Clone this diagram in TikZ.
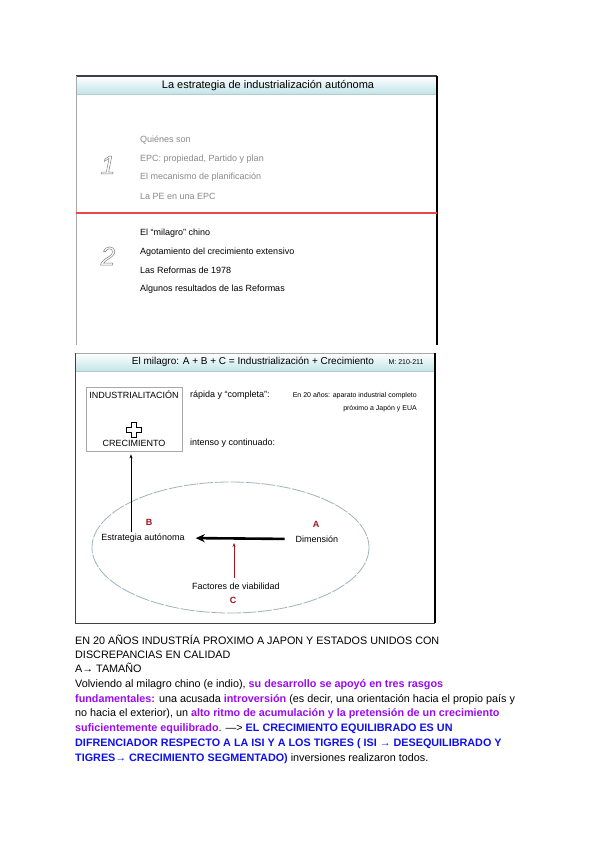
\documentclass[tikz,border=0pt]{standalone}
\usepackage{fontspec}
\setmainfont{Liberation Sans}
\usepackage{tikz}
\usetikzlibrary{arrows.meta,positioning,calc}
\definecolor{slidegray}{HTML}{A8A8A8}
\definecolor{slidedark}{HTML}{404040}
\definecolor{slideteal}{HTML}{C2E4E8}
\definecolor{itemgray}{HTML}{8A8A8A}
\definecolor{sepred}{HTML}{E84848}
\definecolor{milred}{HTML}{A3121E}
\definecolor{ovalline}{HTML}{9FB3BE}
\definecolor{txtpurple}{HTML}{9B0BF2}
\definecolor{txtblue}{HTML}{1010EE}
\newcommand{\hollowtxt}[1]{\special{pdf:literal direct 1 Tr 0.5 w}#1\special{pdf:literal direct 0 Tr}}
\tikzset{
  slidetitle/.style={font=\fontsize{11}{12}\selectfont,inner sep=0pt},
  slideitem/.style={font=\fontsize{9}{11}\selectfont,anchor=west,inner sep=0pt},
  slidenum/.style={font=\fontsize{26}{28}\selectfont\itshape,text=gray,inner sep=0pt},
  boxtxt/.style={font=\fontsize{9}{10}\selectfont,inner sep=0pt},
  smalltxt/.style={font=\fontsize{7}{8}\selectfont,inner sep=0pt},
  letter/.style={font=\fontsize{9}{10}\selectfont\bfseries,text=milred,inner sep=0pt},
  bodyline/.style={font=\fontsize{10.8}{12}\selectfont,anchor=base west,inner sep=0pt},
  thinarr/.style={-{Stealth[length=4pt,width=3pt]},line width=0.8pt},
  thickarr/.style={-{Stealth[length=9pt,width=8pt]},line width=2.6pt},
  redarr/.style={-{Stealth[length=4pt,width=3pt]},line width=1pt,draw=milred}
}
\newcommand{\pur}[1]{\textcolor{txtpurple}{\bfseries #1}}
\newcommand{\blu}[1]{\textcolor{txtblue}{\bfseries #1}}
\begin{document}
\begin{tikzpicture}[x=1pt,y=-1pt]
\useasboundingbox[fill=white] (0,0) rectangle (600,848);

% first slide
\shade[top color=white,bottom color=slideteal] (76,76) rectangle (437,94);
\draw[slideteal!75!gray] (76,94.5) -- (437,94.5);
\draw[slidedark,line width=1.5pt] (76,76) -- (437,76);
\draw[slidegray,line width=1.2pt] (76.6,76) -- (76.6,345);
\draw[black,line width=1.2pt] (437,76) -- (437,345);
\draw[sepred,line width=1.1pt] (76,213) -- (437,213);
\node[slidetitle] (ttl1) at (268,86) {La estrategia de industrialización autónoma};
\node[slidenum] (num1) at (108,165) {\hollowtxt{1}};
\node[slidenum] (num2) at (108,256) {\hollowtxt{2}};
\foreach \txt [count=\i] in {Quiénes son,{EPC: propiedad, Partido y plan},El mecanismo de planificación,La PE en una EPC}
  \node[slideitem,text=itemgray] (pa\i) at (140,{140+18.7*(\i-1)}) {\txt};
\foreach \txt [count=\i] in {El “milagro” chino,Agotamiento del crecimiento extensivo,Las Reformas de 1978,Algunos resultados de las Reformas}
  \node[slideitem] (pb\i) at (140,{233+18.7*(\i-1)}) {\txt};

% second slide
\shade[top color=white,bottom color=slideteal] (75,353) rectangle (435,371);
\draw[slideteal!75!gray] (75,371.5) -- (435,371.5);
\draw[slidegray,line width=1pt] (75,353) -- (435,353);
\draw[slidedark,line width=1.2pt] (75.6,353) -- (75.6,623.4);
\draw[black,line width=1.2pt] (435,353) -- (435,623.4);
\draw[slidedark,line width=1.2pt] (75,623.4) -- (435,623.4);
\node[slidetitle,font=\fontsize{10}{12}\selectfont] (ttl2) at (253,362) {El milagro: A + B + C = Industrialización + Crecimiento};
\node[smalltxt] (pages) at (406,362) {M: 210-211};

\node[draw=slidegray,line width=0.8pt,minimum width=96pt,minimum height=64pt,inner sep=0pt] (box) at (134,419) {};
\node[boxtxt] (ind) at (134,395) {INDUSTRIALITACIÓN};
\node[boxtxt] (cre) at (134,443) {CRECIMIENTO};
\coordinate (plus) at (134,430);
\draw[line width=0.7pt] ($(plus)+(-2.5,-7.5)$) -- ++(5,0) -- ++(0,5) -- ++(5,0) -- ++(0,5) -- ++(-5,0) -- ++(0,5) -- ++(-5,0) -- ++(0,-5) -- ++(-5,0) -- ++(0,-5) -- ++(5,0) -- cycle;
\node[boxtxt,anchor=west] (rap) at (190,395) {rápida y “completa”:};
\node[boxtxt,anchor=west] (int) at (190,443) {intenso y continuado:};
\node[smalltxt,anchor=east] (veinte) at (417,396) {En 20 años: aparato industrial completo};
\node[smalltxt,anchor=east] (prox) at (417,409) {próximo a Japón y EUA};

\draw[ovalline,line width=0.8pt,dash pattern=on 14pt off 1.5pt] (230.5,547.5) ellipse [x radius=138.5,y radius=65.5];
\node[letter] (lb) at (149,522) {B};
\node[boxtxt] (estr) at (143,538) {Estrategia autónoma};
\node[letter] (la) at (316,524) {A};
\node[boxtxt] (dim) at (317,539) {Dimensión};
\node[boxtxt] (fac) at (236,586) {Factores de viabilidad};
\node[letter] (lc) at (233,600) {C};

\draw[thinarr] ($(estr.north -| box.south)+(-3,-2)$) -- ($(box.south)+(-3,3)$);
\draw[thickarr,shorten <=11pt,shorten >=11pt] (dim.west) -- (estr.east);
\draw[redarr,shorten >=4pt] ($(fac.north)+(-2,-5)$) -- ($(fac.north |- dim.west)+(-2,0)$);

% text below
\node[bodyline] (l1) at (75,644) {EN 20 AÑOS INDUSTRÍA PROXIMO A JAPON Y ESTADOS UNIDOS CON};
\node[bodyline] (l2) at (75,658) {DISCREPANCIAS EN CALIDAD};
\node[bodyline] (l3) at (75,672) {A→ TAMAÑO};
\node[bodyline] (l4) at (75,687) {Volviendo al milagro chino (e indio), \pur{su desarrollo se apoyó en tres rasgos}};
\node[bodyline] (l5) at (75,702) {\pur{fundamentales:} una acusada \pur{introversión} (es decir, una orientación hacia el propio país y};
\node[bodyline] (l6) at (75,716) {no hacia el exterior), un \pur{alto ritmo de acumulación y la pretensión de un crecimiento}};
\node[bodyline] (l7) at (75,731) {\pur{suficientemente equilibrado}. —> \blu{EL CRECIMIENTO EQUILIBRADO ES UN}};
\node[bodyline] (l8) at (75,746) {\blu{DIFRENCIADOR RESPECTO A LA ISI Y A LOS TIGRES ( ISI → DESEQUILIBRADO Y}};
\node[bodyline] (l9) at (75,761) {\blu{TIGRES→ CRECIMIENTO SEGMENTADO)} inversiones realizaron todos.};
\end{tikzpicture}
\end{document}
